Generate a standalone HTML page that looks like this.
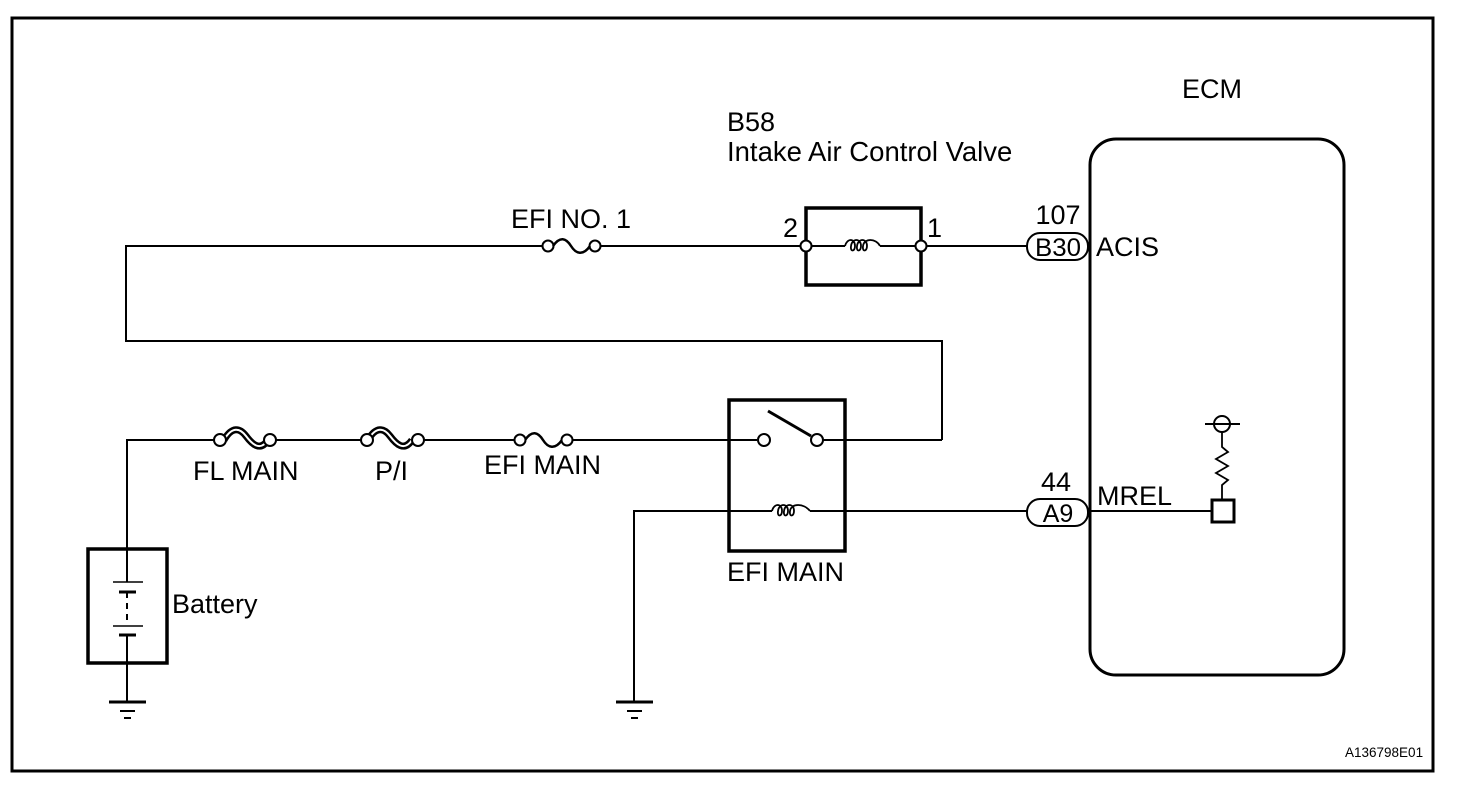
<!DOCTYPE html>
<html><head><style>
html,body{margin:0;padding:0;background:#fff;}
svg{display:block;}
text{font-family:"Liberation Sans",Arial,sans-serif;fill:#000;}
</style></head><body>
<svg width="1472" height="804" viewBox="0 0 1472 804" xmlns="http://www.w3.org/2000/svg">
<rect x="12" y="18" width="1421" height="753" fill="none" stroke="#000" stroke-width="3"/>
<rect x="1090" y="139" width="254" height="536" rx="26" fill="none" stroke="#000" stroke-width="3"/>
<text x="1182" y="98" font-size="27">ECM</text>
<text x="727" y="131" font-size="27">B58</text>
<text x="727" y="161" font-size="27.5">Intake Air Control Valve</text>

<g fill="none" stroke="#000" stroke-width="2">
<polyline points="942,440 942,341 126,341 126,246 542,246"/>
<line x1="601" y1="246" x2="800" y2="246"/>
<line x1="927" y1="246" x2="1028" y2="246"/>
<polyline points="127,549 127,440 214,440"/>
<line x1="276" y1="440" x2="362" y2="440"/>
<line x1="424" y1="440" x2="514" y2="440"/>
<line x1="573" y1="440" x2="757" y2="440"/>
<line x1="823" y1="440" x2="942" y2="440"/>
<polyline points="634,702 634,511 772,511"/>
<line x1="810" y1="511" x2="1028" y2="511"/>
<line x1="1088" y1="511" x2="1212" y2="511"/>
</g>

<g fill="#fff" stroke="#000" stroke-width="2">
<circle cx="548" cy="246" r="5.5"/><circle cx="595" cy="246" r="5.5"/>
</g>
<path d="M553,246 C560,236 566,238 571,246 C576,254 583,256 590,246" fill="none" stroke="#000" stroke-width="2.5"/>
<text x="511" y="228" font-size="27">EFI NO. 1</text>

<rect x="806" y="208" width="115" height="77" fill="none" stroke="#000" stroke-width="3.5"/>
<line x1="811" y1="246" x2="845" y2="246" stroke="#000" stroke-width="2"/>
<line x1="880" y1="246" x2="916" y2="246" stroke="#000" stroke-width="2"/>
<path d="M845,246 C847,238 855,238 855,246 C855,252 850,252 851,246 C852,238 861,238 861,246 C861,252 856,252 857,246 C858,238 867,238 867,246 C867,252 862,252 863,246 C864,238 876,238 880,246" fill="none" stroke="#000" stroke-width="1.8"/>
<g fill="#fff" stroke="#000" stroke-width="2">
<circle cx="806" cy="246" r="5.5"/><circle cx="921" cy="246" r="5.5"/>
</g>
<text x="783" y="237" font-size="27">2</text>
<text x="927" y="237" font-size="27">1</text>

<rect x="1027" y="233" width="61" height="27" rx="13" fill="#fff" stroke="#000" stroke-width="2"/>
<text x="1058" y="256" font-size="25" text-anchor="middle" textLength="46" lengthAdjust="spacingAndGlyphs">B30</text>
<text x="1058" y="224" font-size="27" text-anchor="middle">107</text>
<text x="1096" y="256" font-size="27">ACIS</text>

<rect x="1027" y="499" width="61" height="27" rx="13" fill="#fff" stroke="#000" stroke-width="2"/>
<text x="1058" y="522" font-size="25" text-anchor="middle">A9</text>
<text x="1056" y="491" font-size="27" text-anchor="middle">44</text>
<text x="1097" y="505" font-size="27">MREL</text>

<rect x="1212" y="500" width="22" height="22" fill="#fff" stroke="#000" stroke-width="3"/>
<line x1="1205" y1="424" x2="1240" y2="424" stroke="#000" stroke-width="2"/>
<circle cx="1222" cy="424" r="8" fill="none" stroke="#000" stroke-width="2"/>
<polyline points="1222,432 1222,447 1228,452 1216,459 1228,466 1216,473 1228,480 1222,485 1222,500" fill="none" stroke="#000" stroke-width="1.8"/>

<g fill="none" stroke="#000">
<path d="M224,440 C232,426 240,428 246,436 C252,444 260,452 268,440" stroke-width="7"/>
<path d="M224,440 C232,426 240,428 246,436 C252,444 260,452 268,440" stroke="#fff" stroke-width="2"/>
<path d="M368,440 C376,426 384,428 390,436 C396,444 404,452 412,440" stroke-width="7"/>
<path d="M368,440 C376,426 384,428 390,436 C396,444 404,452 412,440" stroke="#fff" stroke-width="2"/>
<path d="M525,440 C532,430 538,432 543,440 C548,448 555,450 562,440" stroke-width="2.5"/>
</g>
<g fill="#fff" stroke="#000" stroke-width="2">
<circle cx="220" cy="440" r="6"/><circle cx="270" cy="440" r="6"/>
<circle cx="367" cy="440" r="6"/><circle cx="418" cy="440" r="6"/>
<circle cx="520" cy="440" r="5.5"/><circle cx="567" cy="440" r="5.5"/>
</g>
<text x="193" y="480" font-size="27">FL MAIN</text>
<text x="375" y="480" font-size="27">P/I</text>
<text x="484" y="474" font-size="27">EFI MAIN</text>

<rect x="729" y="400" width="116" height="151" fill="none" stroke="#000" stroke-width="3.5"/>
<line x1="768" y1="411" x2="811" y2="436" stroke="#000" stroke-width="3"/>
<g fill="#fff" stroke="#000" stroke-width="2">
<circle cx="764" cy="440" r="6"/><circle cx="817" cy="440" r="6"/>
</g>
<path d="M772,511 C774,503 782,503 782,511 C782,517 777,517 778,511 C779,503 788,503 788,511 C788,517 783,517 784,511 C785,503 794,503 794,511 C794,517 789,517 790,511 C791,503 804,503 810,511" fill="none" stroke="#000" stroke-width="1.8"/>
<text x="727" y="581" font-size="27">EFI MAIN</text>

<rect x="88" y="549" width="79" height="114" fill="none" stroke="#000" stroke-width="3.5"/>
<g stroke="#000">
<line x1="127" y1="549" x2="127" y2="582" stroke-width="2"/>
<line x1="113" y1="582" x2="143" y2="582" stroke-width="1.5"/>
<line x1="119" y1="592" x2="136" y2="592" stroke-width="3"/>
<line x1="127" y1="592" x2="127" y2="621" stroke-width="2" stroke-dasharray="6,5"/>
<line x1="113" y1="626" x2="143" y2="626" stroke-width="1.5"/>
<line x1="119" y1="635" x2="136" y2="635" stroke-width="3"/>
<line x1="127" y1="635" x2="127" y2="702" stroke-width="2"/>
<line x1="109" y1="702" x2="146" y2="702" stroke-width="3"/>
<line x1="120" y1="711" x2="135" y2="711" stroke-width="2"/>
<line x1="124" y1="718" x2="131" y2="718" stroke-width="2"/>
<line x1="616" y1="702" x2="653" y2="702" stroke-width="3"/>
<line x1="627" y1="711" x2="642" y2="711" stroke-width="2"/>
<line x1="631" y1="718" x2="638" y2="718" stroke-width="2"/>
</g>
<text x="172" y="613" font-size="27">Battery</text>

<text x="1345" y="757" font-size="13.5">A136798E01</text>
</svg>
</body></html>
